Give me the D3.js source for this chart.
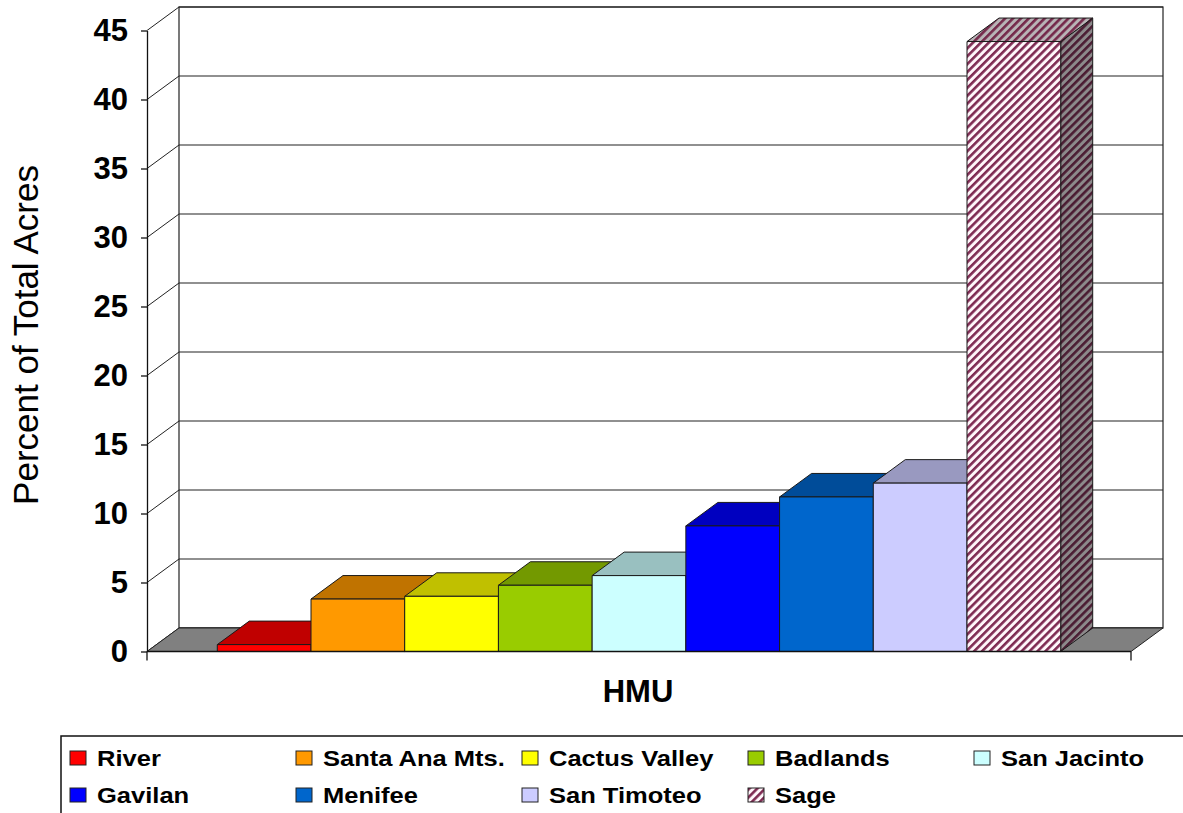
<!DOCTYPE html>
<html>
<head>
<meta charset="utf-8">
<script src="https://cdn.jsdelivr.net/npm/d3@7"></script>
<style>
  body { margin: 0; background: #fff; }
  text { font-family: "Liberation Sans", Arial, sans-serif; fill: #000; }
</style>
</head>
<body>
<div id="chart"></div>
<script>
// Share of total acres by HMU
var hmus = ["River", "Santa Ana Mts.", "Cactus Valley", "Badlands", "San Jacinto",
            "Gavilan", "Menifee", "San Timoteo", "Sage"];
var percents = [0.5, 3.8, 4.0, 4.8, 5.5, 9.1, 11.2, 12.2, 44.2];
var yTicks = [0, 5, 10, 15, 20, 25, 30, 35, 40, 45];

// colours (front face / top face / side face), Sage uses a hatch
var frontColors = ["#ff0000", "#ff9900", "#ffff00", "#99cc00", "#ccffff",
                   "#0000ff", "#0066cc", "#ccccff", "url(#hatchFront)"];
var topColors = ["#c00000", "#c07300", "#c0c000", "#739900", "#99c0c0",
                 "#0000c0", "#004c99", "#9999c0", "url(#hatchTop)"];
var sideColors = ["#800000", "#804c00", "#808000", "#4d6600", "#668080",
                  "#000080", "#003366", "#666680", "url(#hatchSide)"];

var svgWidth = 1183;
var svgHeight = 813;

// front plane of the plot and the 3D depth offset
var plotLeft = 147, plotRight = 1131, plotTop = 30.5, plotBottom = 651.5;
var dx = 32, dy = 23.5;

var svg = d3.select("#chart")
  .append("svg")
  .attr("width", svgWidth)
  .attr("height", svgHeight);

// hatch patterns for Sage
var defs = svg.append("defs");
function hatch(id, bg, fg) {
  var p = defs.append("pattern")
    .attr("id", id)
    .attr("patternUnits", "userSpaceOnUse")
    .attr("width", 5.6)
    .attr("height", 5.6)
    .attr("patternTransform", "rotate(45)");
  p.append("rect").attr("width", 5.6).attr("height", 5.6).attr("fill", bg);
  p.append("rect").attr("width", 2.6).attr("height", 5.6).attr("fill", fg);
}
hatch("hatchFront", "#fff6fa", "#7e2a52");
hatch("hatchTop", "#b8b4b6", "#74284a");
hatch("hatchSide", "#8c8a8b", "#4a1c32");

var xScale = d3.scaleBand()
  .domain(hmus)
  .range([plotLeft, plotRight])
  .paddingInner(0)
  .paddingOuter(0.75);

var yScale = d3.scaleLinear()
  .domain([0, 45])
  .range([plotBottom, plotTop]);

// back wall
svg.append("rect")
  .attr("x", plotLeft + dx)
  .attr("y", plotTop - dy)
  .attr("width", plotRight - plotLeft)
  .attr("height", plotBottom - plotTop)
  .attr("fill", "#fff")
  .attr("stroke", "#222")
  .attr("stroke-width", 1.2);

// gridlines on the back wall and the side wall
yTicks.forEach(function(t) {
  var y = yScale(t);
  svg.append("line")
    .attr("x1", plotLeft + dx).attr("x2", plotRight + dx)
    .attr("y1", y - dy).attr("y2", y - dy)
    .attr("stroke", "#222").attr("stroke-width", 1.2);
  svg.append("line")
    .attr("x1", plotLeft).attr("x2", plotLeft + dx)
    .attr("y1", y).attr("y2", y - dy)
    .attr("stroke", "#222").attr("stroke-width", 1);
});

// floor
svg.append("polygon")
  .attr("points", [[plotLeft, plotBottom], [plotLeft + dx, plotBottom - dy],
                   [plotRight + dx, plotBottom - dy], [plotRight, plotBottom]].join(" "))
  .attr("fill", "#808080")
  .attr("stroke", "#222")
  .attr("stroke-width", 1);

// bars, left to right so the next front face hides the previous side
var bars = svg.append("g");
hmus.forEach(function(name, i) {
  var x0 = xScale(name);
  var x1 = x0 + xScale.bandwidth();
  var yt = yScale(percents[i]);
  var g = bars.append("g")
    .attr("stroke", "#1a1a1a")
    .attr("stroke-width", 1)
    .attr("stroke-linejoin", "round");
  g.append("polygon")
    .attr("points", [[x1, yt], [x1 + dx, yt - dy], [x1 + dx, plotBottom - dy], [x1, plotBottom]].join(" "))
    .attr("fill", sideColors[i]);
  g.append("polygon")
    .attr("points", [[x0, yt], [x0 + dx, yt - dy], [x1 + dx, yt - dy], [x1, yt]].join(" "))
    .attr("fill", topColors[i]);
  g.append("rect")
    .attr("x", x0)
    .attr("y", yt)
    .attr("width", x1 - x0)
    .attr("height", plotBottom - yt)
    .attr("fill", frontColors[i]);
});

// y axis on the front plane
var leftAxis = d3.axisLeft(yScale)
  .tickValues(yTicks)
  .tickSize(6)
  .tickSizeOuter(0)
  .tickPadding(13);

var yAxisG = svg.append("g")
  .attr("transform", `translate(${plotLeft}, 0)`)
  .call(leftAxis);
yAxisG.select(".domain").attr("stroke", "#111").attr("stroke-width", 1.3);
yAxisG.selectAll(".tick line").attr("stroke", "#111").attr("stroke-width", 1.3);
yAxisG.selectAll(".tick text")
  .attr("font-family", "Liberation Sans, Arial, sans-serif")
  .attr("font-size", "31px")
  .attr("font-weight", "bold")
  .attr("fill", "#000");

// front floor edge with its two end ticks
svg.append("line")
  .attr("x1", plotLeft).attr("x2", plotRight)
  .attr("y1", plotBottom).attr("y2", plotBottom)
  .attr("stroke", "#111").attr("stroke-width", 1.3);
[plotLeft, plotRight].forEach(function(x) {
  svg.append("line")
    .attr("x1", x).attr("x2", x)
    .attr("y1", plotBottom).attr("y2", plotBottom + 9)
    .attr("stroke", "#111").attr("stroke-width", 1.3);
});

// axis titles
svg.append("text")
  .attr("transform", "translate(38, 335) rotate(-90)")
  .attr("text-anchor", "middle")
  .attr("font-size", "35px")
  .text("Percent of Total Acres");

svg.append("text")
  .attr("x", 638)
  .attr("y", 702)
  .attr("text-anchor", "middle")
  .attr("font-size", "31px")
  .attr("font-weight", "bold")
  .text("HMU");

// legend
svg.append("rect")
  .attr("x", 61)
  .attr("y", 736)
  .attr("width", 1140)
  .attr("height", 100)
  .attr("fill", "#fff")
  .attr("stroke", "#111")
  .attr("stroke-width", 1.5);

var legendCols = 5;
var legend = svg.append("g");
hmus.forEach(function(name, i) {
  var col = i % legendCols, row = Math.floor(i / legendCols);
  var gx = 70 + col * 226;
  var gy = 751 + row * 37;
  var item = legend.append("g").attr("transform", `translate(${gx}, ${gy})`);
  item.append("rect")
    .attr("width", 16)
    .attr("height", 14)
    .attr("fill", frontColors[i])
    .attr("stroke", "#222")
    .attr("stroke-width", 1);
  item.append("text")
    .attr("transform", "translate(27, 15) scale(1.16, 1)")
    .attr("font-size", "22px")
    .attr("font-weight", "bold")
    .text(name);
});
</script>
</body>
</html>
